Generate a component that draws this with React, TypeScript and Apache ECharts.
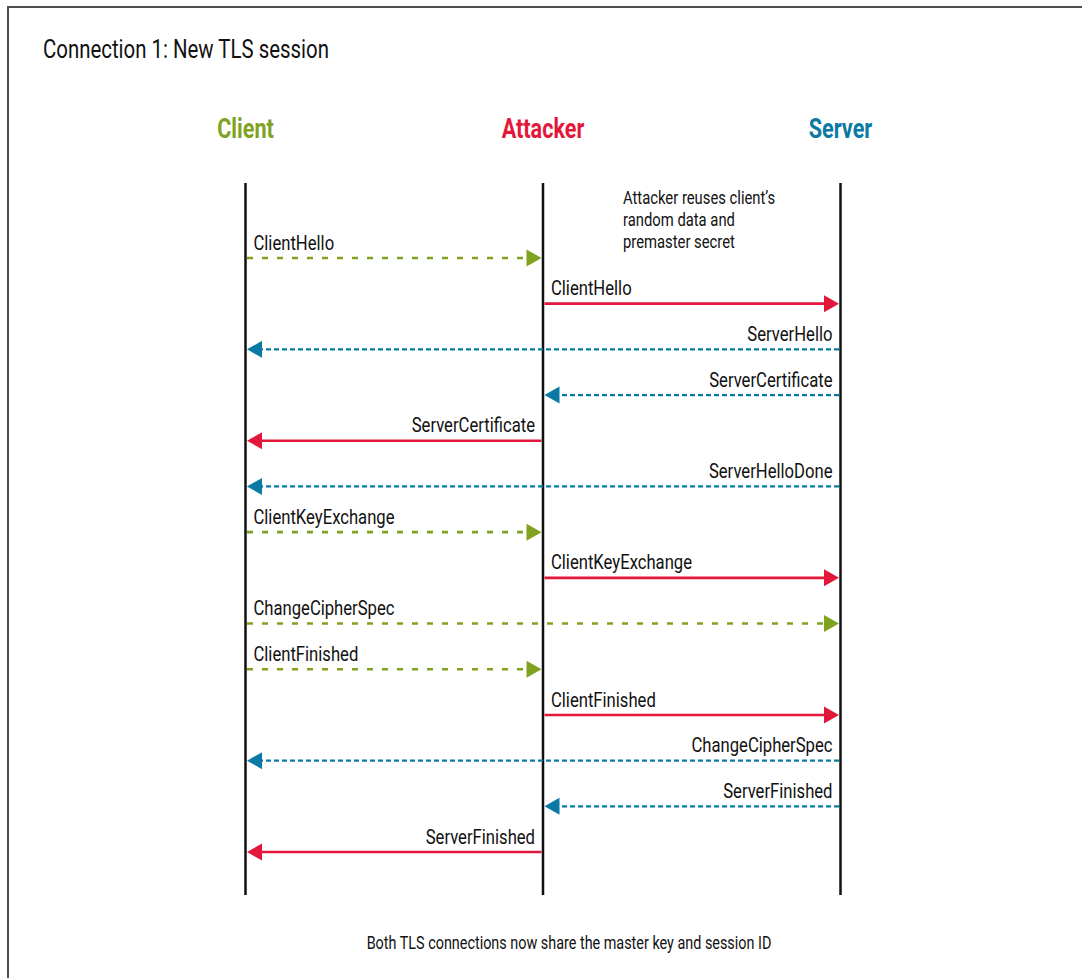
import React, { useEffect, useRef } from "react";
import * as echarts from "echarts";

// ---- data ----
const titleText = "Connection 1: New TLS session";
const participants = ["Client", "Attacker", "Server"];
const participantColors = ["#7fa31f", "#e3173a", "#0a79a4"];
const messageLabels = [
  "ClientHello",
  "ClientHello",
  "ServerHello",
  "ServerCertificate",
  "ServerCertificate",
  "ServerHelloDone",
  "ClientKeyExchange",
  "ClientKeyExchange",
  "ChangeCipherSpec",
  "ClientFinished",
  "ClientFinished",
  "ChangeCipherSpec",
  "ServerFinished",
  "ServerFinished",
];
const messageFrom = [0, 1, 2, 2, 1, 2, 0, 1, 0, 0, 1, 2, 2, 1];
const messageTo = [1, 2, 0, 1, 0, 0, 1, 2, 2, 1, 2, 0, 1, 0];
const noteLines = ["Attacker reuses client\u2019s", "random data and", "premaster secret"];
const footerText = "Both TLS connections now share the master key and session ID";

// lifeline extent in row units
const ROW_MIN = -1.64;
const ROW_MAX = 13.94;

const FONT = 'Roboto, "Noto Sans", sans-serif';
const SX = 0.8;

export default function App() {
  const ref = useRef<HTMLDivElement>(null);

  useEffect(() => {
    document.body.style.margin = "0";
    const chart = echarts.init(ref.current!, null, { renderer: "svg" });

    const messageData = messageLabels.map((_, i) => ({
      value: [messageFrom[i], i, messageTo[i]],
    }));

    const option: any = {
      animation: false,
      grid: { left: 245.5, right: 241.5, top: 183, bottom: 83, containLabel: false },
      xAxis: { type: "value", min: 0, max: 2, show: false },
      yAxis: { type: "value", min: ROW_MIN, max: ROW_MAX, inverse: true, show: false },
      graphic: [
        { type: "line", shape: { x1: 7, y1: 7, x2: 1082, y2: 7 }, style: { stroke: "#4d4d4d", lineWidth: 2 } },
        { type: "line", shape: { x1: 8, y1: 6, x2: 8, y2: 978 }, style: { stroke: "#4d4d4d", lineWidth: 2 } },
        {
          type: "text", x: 43, y: 49, scaleX: 0.785,
          style: { text: titleText, fontFamily: FONT, fontSize: 26, fill: "#111", align: "left", verticalAlign: "middle" },
        },
        ...noteLines.map((t, i) => ({
          type: "text", x: 623, y: 197 + i * 22, scaleX: SX,
          style: { text: t, fontFamily: FONT, fontSize: 18.5, fill: "#111", align: "left", verticalAlign: "middle" },
        })),
        {
          type: "text", x: 569, y: 943, scaleX: SX,
          style: { text: footerText, fontFamily: FONT, fontSize: 18, fill: "#111", align: "center", verticalAlign: "middle" },
        },
      ],
      series: [
        {
          type: "custom",
          silent: true,
          data: participants.map((_, i) => ({ value: [i, 0] })),
          renderItem: (params: any, api: any) => {
            const i = api.value(0);
            const top = api.coord([i, ROW_MIN]);
            const bot = api.coord([i, ROW_MAX]);
            return {
              type: "group",
              children: [
                {
                  type: "line",
                  shape: { x1: top[0], y1: top[1], x2: bot[0], y2: bot[1] },
                  style: { stroke: "#111", lineWidth: 2.5 },
                },
                {
                  type: "text", x: top[0], y: top[1] - 54, scaleX: SX,
                  style: {
                    text: participants[params.dataIndex], fontFamily: FONT, fontWeight: "bold",
                    fontSize: 27, fill: participantColors[params.dataIndex], align: "center", verticalAlign: "middle",
                  },
                },
              ],
            };
          },
        },
        {
          type: "custom",
          silent: true,
          data: messageData,
          renderItem: (params: any, api: any) => {
            const from = api.value(0);
            const row = api.value(1);
            const to = api.value(2);
            const a = api.coord([from, row]);
            const b = api.coord([to, row]);
            const dir = b[0] > a[0] ? 1 : -1;
            const y = a[1];
            const tipX = b[0] - dir * 1.5;
            const baseX = tipX - dir * 15;
            const color = participantColors[from];
            const dash = from === 0 ? [6, 9] : from === 2 ? [5, 3] : null;
            const lw = from === 2 ? 2.2 : 2.6;
            return {
              type: "group",
              children: [
                {
                  type: "line",
                  shape: { x1: a[0] + dir * 1.5, y1: y, x2: baseX, y2: y },
                  style: { stroke: color, lineWidth: lw, lineDash: dash || undefined },
                },
                {
                  type: "polygon",
                  shape: { points: [[tipX, y], [baseX, y - 8.5], [baseX, y + 8.5]] },
                  style: { fill: color },
                },
                {
                  type: "text", x: dir > 0 ? a[0] + 8 : a[0] - 8, y: y - 15, scaleX: SX,
                  style: {
                    text: messageLabels[params.dataIndex], fontFamily: FONT, fontSize: 20.8, fill: "#111",
                    align: dir > 0 ? "left" : "right", verticalAlign: "middle",
                  },
                },
              ],
            };
          },
        },
      ],
    };

    chart.setOption(option);
    return () => chart.dispose();
  }, []);

  return <div ref={ref} style={{ width: 1082, height: 978, background: "#fff" }} />;
}
